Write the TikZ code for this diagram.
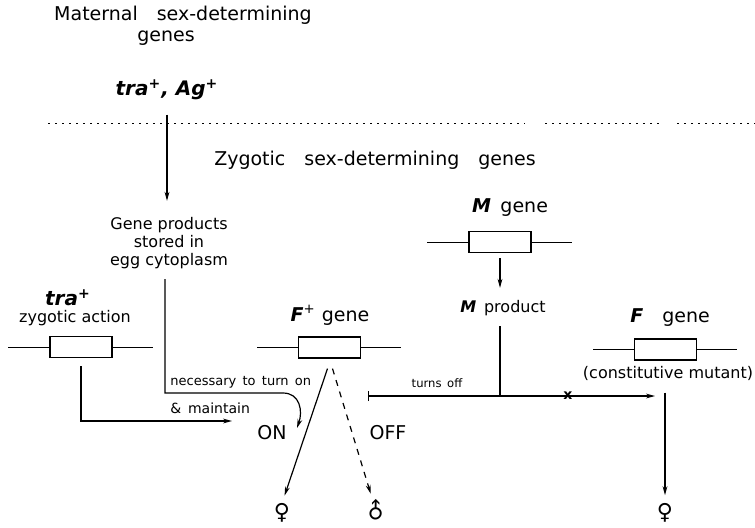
\documentclass[tikz,border=0pt]{standalone}
\usepackage{fontspec}
\setmainfont{DejaVu Sans}
\newfontfamily\symfont{DejaVu Sans}
\usetikzlibrary{arrows.meta, positioning}

\begin{document}
\begin{tikzpicture}[
    x=0.5pt, y=-0.5pt,
    % estilos
    geneBox/.style={draw, line width=0.6pt, minimum width=31pt, minimum height=10.5pt, inner sep=0pt},
    geneLine/.style={line width=0.5pt},
    flowArrow/.style={line width=0.6pt, -{Stealth[length=4.5pt, width=2.4pt]}},
    plainLine/.style={line width=0.6pt},
    blockLine/.style={line width=0.6pt, -{Bar[width=5pt]}},
    borderLine/.style={line width=0.4pt, dash pattern=on 1.2pt off 2.3pt},
    bigLabel/.style={font=\fontsize{9.5}{10.5}\selectfont, inner sep=1pt},
    midLabel/.style={font=\fontsize{8}{9}\selectfont, align=center, inner sep=1pt},
    smallLabel/.style={font=\fontsize{6.5}{7.5}\selectfont, inner sep=1pt},
    tinyLabel/.style={font=\fontsize{5.8}{6.8}\selectfont, inner sep=1pt},
    geneName/.style={font=\fontsize{10}{11}\selectfont\bfseries\itshape, inner sep=1pt},
    sexSym/.style={font=\symfont\fontsize{11}{12}\selectfont, inner sep=0pt}
]
\useasboundingbox (0,0) rectangle (755,527);

% ==========================
% TITULOS
% ==========================
\node[bigLabel] (matTitle) at (183,15) {Maternal\quad sex-determining};
\node[bigLabel] (matGenes) at (166,38) {genes};
\node[geneName] (mat) at (167,90) {tra\textsuperscript{+}, Ag\textsuperscript{+}};
\node[bigLabel] (zygTitle) at (375,160) {Zygotic\quad sex-determining\quad genes};

% fronteira materno / zigotico
\draw[borderLine] (48,123) -- (525,123);
\draw[borderLine] (545,123) -- (663,123);
\draw[borderLine] (677,123) -- (755,123);

\node[midLabel] (eggProd) at (169,243) {Gene products\\stored in\\egg cytoplasm};

% ==========================
% GENES
% ==========================
\node[geneBox] (traBox) at (81,347) {};
\node[geneName] (traName) at (68,298) {tra\textsuperscript{+}};
\node[midLabel] (traAct) at (75,318) {zygotic action};

\node[geneBox] (fpBox) at (329.5,347.5) {};
\node[bigLabel] (fpName) at (330,315) {\textbf{\textit{F}}\textsuperscript{+} gene};

\node[geneBox] (mBox) at (500,242) {};
\node[bigLabel] (mName) at (510,208) {\textbf{\textit{M}}\enspace gene};
\node[midLabel] (mProd) at (503,308) {\textbf{\textit{M}}\, product};

\node[geneBox] (fcBox) at (665.5,349.5) {};
\node[bigLabel] (fcName) at (670,318) {\textbf{\textit{F}}\quad gene};
\node[midLabel] (fcMut) at (668,373) {(constitutive mutant)};

\foreach \g in {traBox, fpBox, mBox, fcBox} {
    \draw[geneLine] (\g.west) -- ++(-41,0);
    \draw[geneLine] (\g.east) -- ++(40,0);
}

% ==========================
% ESTADOS E FENOTIPOS
% ==========================
\node[bigLabel] (on) at (272,433) {ON};
\node[bigLabel] (off) at (388,433) {OFF};
\node[smallLabel, anchor=west] (needOn) at (168,382) {necessary\, to\, turn\, on};
\node[smallLabel, font=\fontsize{7}{8}\selectfont, anchor=west] (maintain) at (168,408) {\&\, maintain};
\node[tinyLabel] (turnsOff) at (437,383) {turns\, off};
\node[font=\fontsize{7}{8}\selectfont\bfseries, inner sep=0pt] (cross) at (568,396) {x};

\node[sexSym] (fem1) at (282,513) {♀};
\node[sexSym, rotate=45] (male) at (376,511) {♂};
\node[sexSym] (fem2) at (665,513) {♀};

\coordinate (apex) at ([yshift=-5pt]fpBox.south);
\coordinate (traTip) at (232,421);
\coordinate (onBend) at (283,393);
\coordinate (onTip) at (297,428);
\coordinate (offBar) at (368,396);
\coordinate (mJoin) at (500,396);
\coordinate (fTip) at (655,396);

% ==========================
% LIGACOES
% ==========================
\draw[flowArrow, shorten <=6pt, shorten >=7pt] (mat.south) -- (mat.south |- eggProd.north);
\draw[flowArrow, shorten <=4pt] ([xshift=-2pt]eggProd.south) |- (onBend) .. controls (300,393) and (303,411) .. (onTip);
\draw[flowArrow, shorten <=4pt] (traBox.south) |- (traTip);

\draw[flowArrow, shorten >=4pt] ([xshift=-1pt]apex) -- (fem1.north);
\draw[flowArrow, dashed, shorten >=9pt] ([xshift=1.5pt]apex) -- (male.center);

\draw[flowArrow, shorten <=2.5pt, shorten >=5pt] (mBox.south) -- (mBox.south |- mProd.north);
\draw[plainLine, shorten <=4pt] (mJoin |- mProd.south) -- (mJoin);
\draw[blockLine] (mJoin) -- (offBar);
\draw[flowArrow] (mJoin) -- (fTip);
\draw[flowArrow, shorten <=5pt, shorten >=4pt] (fem2.north |- fcMut.south) -- (fem2.north);

\end{tikzpicture}
\end{document}
